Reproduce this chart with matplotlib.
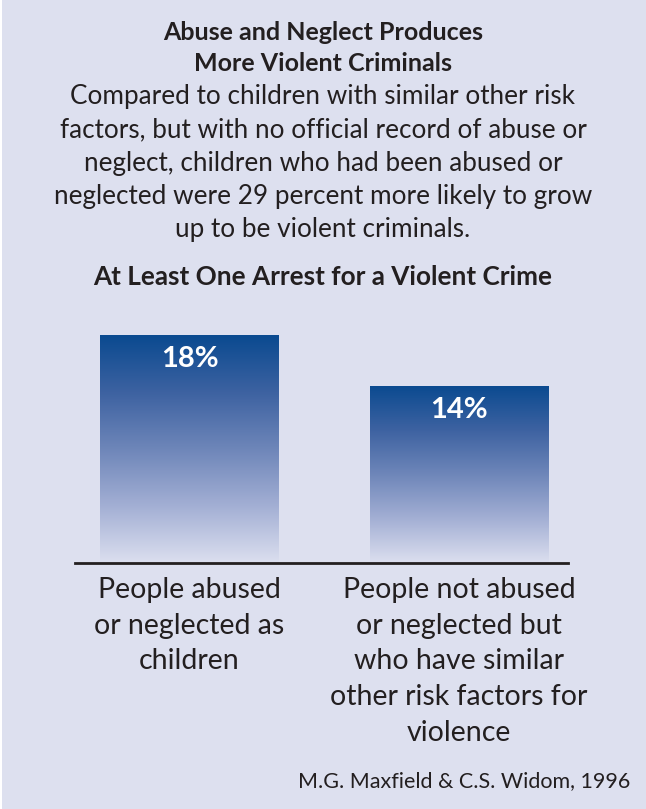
import numpy as np
import matplotlib.pyplot as plt
from matplotlib.colors import LinearSegmentedColormap
from matplotlib.patches import Rectangle

# Share with at least one arrest for a violent crime (%)
groups = ['People abused\nor neglected as\nchildren',
          'People not abused\nor neglected but\nwho have similar\nother risk factors for\nviolence']
values = [18, 14]
value_labels = ['18%', '14%']

title = 'Abuse and Neglect Produces\nMore Violent Criminals'
blurb = ('Compared to children with similar other risk\n'
         'factors, but with no official record of abuse or\n'
         'neglect, children who had been abused or\n'
         'neglected were 29 percent more likely to grow\n'
         'up to be violent criminals.')
subtitle = 'At Least One Arrest for a Violent Crime'
source = 'M.G. Maxfield & C.S. Widom, 1996'

bg = '#dde0ef'
ink = '#231f20'
plt.rcParams['font.family'] = ['Lato', 'DejaVu Sans']

W, H = 646, 809
fig = plt.figure(figsize=(W / 100, H / 100), dpi=100, facecolor=bg)
# thin white edge on the left side of the panel
fig.patches.append(Rectangle((0, 0), 2 / W, 1, transform=fig.transFigure,
                             facecolor='white', edgecolor='none'))

# text block
fig.text(0.5, 1 - 48 / H, title, ha='center', va='center', fontsize=18, fontweight='bold',
         color=ink, linespacing=1.42)
fig.text(0.5, 1 - 163 / H, blurb, ha='center', va='center', fontsize=18.8, color=ink,
         linespacing=1.41)
fig.text(0.5, 1 - 277 / H, subtitle, ha='center', va='center', fontsize=18.8,
         fontweight='bold', color=ink)
fig.text(630 / W, 1 - 781 / H, source, ha='right', va='center', fontsize=15.5, color=ink)

# chart area
ax = fig.add_axes([75 / W, 1 - 563 / H, (568 - 75) / W, (563 - 320) / H])
ax.set_facecolor(bg)
x = np.arange(len(values))
width = 0.664
bars = ax.bar(x, values, width=width, color='none', edgecolor='none')

cmap = LinearSegmentedColormap.from_list(
    'fade', ['#0a4a90', '#3d62a1', '#6e86b9', '#a3afd4', '#dcdfef'])
grad = np.linspace(0, 1, 256).reshape(-1, 1)
for b, lab in zip(bars, value_labels):
    x0, h = b.get_x(), b.get_height()
    im = ax.imshow(grad, cmap=cmap, aspect='auto', origin='upper',
                   extent=[x0, x0 + width, 0, h], zorder=1)
    im.set_clip_path(b)
    ax.text(x0 + width / 2, h - 1.9, lab, ha='center', va='center', color='white',
            fontsize=21, fontweight='bold', zorder=3)

ax.set_xlim(-0.425, 1.404)
ax.set_ylim(0, 19.2)
for s in ['top', 'right', 'left']:
    ax.spines[s].set_visible(False)
ax.spines['bottom'].set_color(ink)
ax.spines['bottom'].set_linewidth(2)
ax.set_yticks([])
ax.set_xticks(x)
ax.set_xticklabels(groups, fontsize=20.5, color=ink, linespacing=1.46, va='top')
ax.tick_params(axis='x', length=0, pad=10)

fig.savefig('out.png', dpi=100, facecolor=bg)
